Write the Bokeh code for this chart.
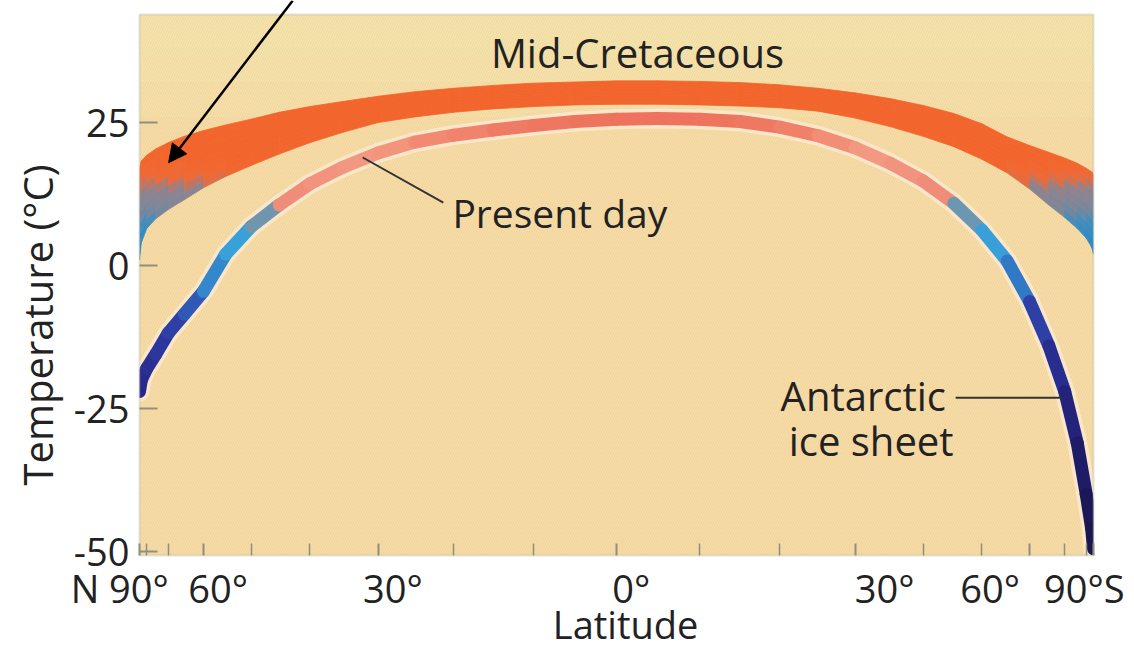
import math
from bokeh.plotting import figure
from bokeh.models import (Range1d, FixedTicker, CustomJSTickFormatter, Label, Arrow,
                          NormalHead, BoxAnnotation, ColumnDataSource)
from bokeh.embed import file_html
from bokeh.resources import INLINE

# ---------------- data ----------------
# latitude in degrees, positive = North, negative = South
latitude = [90, 85, 80, 75, 70, 65, 60, 55, 50, 45, 40, 35, 30, 25, 20, 15, 10, 5, 0,
            -5, -10, -15, -20, -25, -30, -35, -40, -45, -50, -55, -60, -65, -70, -75, -80, -85, -90]

# Mid-Cretaceous temperature band (upper / lower edge, deg C)
cretaceous_upper = [17.0, 18.3, 19.3, 20.4, 21.5, 22.6, 23.6, 24.6, 25.6, 26.8, 27.8, 28.7, 29.6,
                    30.4, 31.0, 31.5, 31.9, 32.1, 32.3, 32.3, 32.2, 32.0, 31.6, 31.0, 30.2, 29.2,
                    28.0, 26.6, 24.8, 22.5, 21.0, 19.8, 18.8, 17.9, 17.0, 16.4, 16.0]
cretaceous_lower = [1.0, 4.0, 6.5, 8.2, 9.8, 11.5, 13.6, 15.6, 17.5, 19.5, 21.5, 23.3, 25.0,
                    26.0, 26.8, 27.4, 27.8, 28.1, 28.2, 28.2, 28.1, 27.9, 27.6, 27.0, 25.8, 24.3,
                    22.6, 20.8, 18.6, 16.2, 13.4, 10.6, 8.4, 6.5, 4.8, 3.2, 2.0]

# Present day temperature (deg C)
present_day = [-22.0, -20.0, -18.0, -15.5, -11.8, -8.5, -4.5, 2.0, 6.8, 10.6, 14.3, 17.2, 19.7,
               21.6, 22.8, 23.7, 24.5, 25.2, 25.6, 25.7, 25.6, 25.2, 24.2, 22.7, 20.6, 17.9,
               14.8, 10.9, 6.2, 0.8, -6.3, -14.0, -22.0, -31.0, -40.0, -46.0, -49.5]

y_ticks = [25, 0, -25, -50]
x_tick_lats = [90, 60, 30, 0, -30, -60, -90]
x_tick_labels = ["N 90°", "60°", "30°", "0°", "30°", "60°", "90°S"]
minor_tick_lats = [80, 70, 50, 40, 20, 10, -10, -20, -40, -50, -70, -80]

# plotted area
Y_BOTTOM, Y_TOP = -50.7, 43.9
X_LEFT, X_RIGHT = -1.0, 1.0

# ---------------- helpers ----------------
def proj(lat):
    # equal-area (sine) latitude axis, North on the left
    return -math.sin(math.radians(lat))

def hex2rgb(h):
    return tuple(int(h[i:i + 2], 16) for i in (1, 3, 5))

def cmap(stops, t):
    if t <= stops[0][0]:
        return stops[0][1]
    if t >= stops[-1][0]:
        return stops[-1][1]
    for (t0, c0), (t1, c1) in zip(stops[:-1], stops[1:]):
        if t0 <= t <= t1:
            f = (t - t0) / (t1 - t0)
            a, b = hex2rgb(c0), hex2rgb(c1)
            return "#%02x%02x%02x" % tuple(round(a[i] + (b[i] - a[i]) * f) for i in range(3))

cret_stops = [(0, "#2a78b0"), (4, "#3088c0"), (7.5, "#3a8ec4"), (10, "#7d8798"),
              (13.5, "#8e8390"), (15.5, "#ec6a38"), (18, "#f2662e"), (40, "#f2642c")]
pres_stops = [(-50, "#1a1548"), (-35, "#1f1c68"), (-20, "#26288a"), (-10, "#2e3fa6"),
              (-4, "#2f6cc0"), (1, "#389cd8"), (7, "#3aa4da"), (9.5, "#8a8f99"),
              (12, "#ef8c78"), (20, "#f39a82"), (24, "#f07c66"), (28, "#ec6450")]

FONT = "Open Sans"
TXT = "#222222"
FS = "38px"

xs_lat = [proj(l) for l in latitude]

# ---------------- figure ----------------
# The frame fills the whole canvas; axes are pinned to the edges of the plotted area.
W, H = 1134, 649
PX_PER_X = 477.0      # pixels per unit of sin(latitude)
PX_PER_Y = 5.72       # pixels per deg C
FRAME_L, FRAME_T = 139, 14
x_lo = X_LEFT - FRAME_L / PX_PER_X
x_hi = x_lo + W / PX_PER_X
y_hi = Y_TOP + FRAME_T / PX_PER_Y
y_lo = y_hi - H / PX_PER_Y

p = figure(width=W, height=H, x_range=Range1d(x_lo, x_hi), y_range=Range1d(y_lo, y_hi),
           output_backend="svg", toolbar_location=None, min_border=0,
           background_fill_color="white", border_fill_color="white")
p.grid.visible = False
p.outline_line_color = None

area = dict(left=X_LEFT, right=X_RIGHT, bottom=Y_BOTTOM, top=Y_TOP)

# plotted area: background, tint and texture
p.add_layout(BoxAnnotation(**area, fill_color="#f7dca6", fill_alpha=1, line_color=None,
                           level="underlay"))
for b, a in ((26, 0.18), (32, 0.22), (37, 0.25)):
    p.add_layout(BoxAnnotation(left=X_LEFT, right=X_RIGHT, bottom=b, top=Y_TOP,
                               fill_color="#f5ecb0", fill_alpha=a, line_color=None,
                               level="underlay"))
p.add_layout(BoxAnnotation(**area, fill_alpha=0, line_color=None, hatch_pattern="/",
                           hatch_color="#e2c48e", hatch_alpha=0.35, hatch_scale=5, hatch_weight=1,
                           level="underlay"))

# halo under the present-day band
p.line(xs_lat, present_day, line_color="#fcecd8", line_width=20, line_alpha=0.7,
       line_join="round", line_cap="round")

# Mid-Cretaceous band, coloured by temperature
NSUB = 8
pxs, pys, pcs = [], [], []
for i in range(len(latitude) - 1):
    x0, x1 = xs_lat[i], xs_lat[i + 1]
    lo0, hi0 = cretaceous_lower[i], cretaceous_upper[i]
    lo1, hi1 = cretaceous_lower[i + 1], cretaceous_upper[i + 1]
    for k in range(NSUB):
        a0 = lo0 + (hi0 - lo0) * k / NSUB
        b0 = lo0 + (hi0 - lo0) * (k + 1) / NSUB
        a1 = lo1 + (hi1 - lo1) * k / NSUB
        b1 = lo1 + (hi1 - lo1) * (k + 1) / NSUB
        pxs.append([x0, x1, x1, x0])
        pys.append([a0, a1, b1, b0])
        pcs.append(cmap(cret_stops, (a0 + a1 + b0 + b1) / 4))
p.patches("xs", "ys", fill_color="c", line_color="c", line_width=0.8,
          source=ColumnDataSource(dict(xs=pxs, ys=pys, c=pcs)))

# Present-day band, coloured by temperature
seg = dict(x0=xs_lat[:-1], x1=xs_lat[1:], y0=present_day[:-1], y1=present_day[1:],
           c=[cmap(pres_stops, (present_day[i] + present_day[i + 1]) / 2)
              for i in range(len(present_day) - 1)])
p.segment("x0", "y0", "x1", "y1", line_color="c", line_width=13, line_cap="round",
          source=ColumnDataSource(seg))

# mask anything that spills outside the plotted area, then draw its border
for kw in (dict(right=X_LEFT), dict(left=X_RIGHT), dict(top=Y_BOTTOM), dict(bottom=Y_TOP)):
    p.add_layout(BoxAnnotation(**kw, fill_color="white", fill_alpha=1, line_color=None,
                               level="glyph"))
p.add_layout(BoxAnnotation(**area, fill_alpha=0, line_color="#a3a390", line_width=2,
                           level="glyph"))

# ---------------- axes ----------------
pad = "\u00a0"
tick_text = [x_tick_labels[0] + pad * 4, pad * 3 + x_tick_labels[1], pad * 3 + x_tick_labels[2],
             pad * 3 + x_tick_labels[3], pad * 6 + x_tick_labels[4], x_tick_labels[5] + pad * 8,
             x_tick_labels[6] + pad]
major_pos = [proj(l) for l in x_tick_lats]
p.xaxis.fixed_location = Y_BOTTOM
p.yaxis.fixed_location = X_LEFT
p.xaxis.ticker = FixedTicker(ticks=major_pos, minor_ticks=[proj(l) for l in minor_tick_lats])
p.xaxis.formatter = CustomJSTickFormatter(args=dict(pos=major_pos, names=tick_text), code="""
    let best = ''; let bd = 1e9;
    for (let i = 0; i < pos.length; i++) {
        const d = Math.abs(pos[i] - tick);
        if (d < bd) { bd = d; best = names[i]; }
    }
    return best;
""")
p.yaxis.ticker = FixedTicker(ticks=y_ticks)
p.yaxis.formatter = CustomJSTickFormatter(code="return String(Math.round(tick));")

for ax in (p.xaxis[0], p.yaxis[0]):
    ax.axis_line_color = None
    ax.major_tick_line_color = "#8f8f80"
    ax.major_tick_line_width = 2
    ax.major_tick_out = 0
    ax.minor_tick_line_color = "#8f8f80"
    ax.minor_tick_line_width = 1.5
    ax.minor_tick_out = 0
    ax.major_label_text_font = FONT
    ax.major_label_text_font_size = FS
    ax.major_label_text_color = TXT
    ax.axis_label_text_font = FONT
    ax.axis_label_text_font_style = "normal"
    ax.axis_label_text_color = TXT

p.xaxis.major_tick_in = 12
p.xaxis.minor_tick_in = 12
p.xaxis.major_label_standoff = 6

p.yaxis.major_tick_in = 18
p.yaxis.minor_tick_in = 0
p.yaxis.major_label_standoff = 10
p.yaxis.axis_label = "Temperature (°C)"
p.yaxis.axis_label_text_font_size = "40px"
p.yaxis.axis_label_standoff = 6

# ---------------- annotations ----------------
def lab(text, x, y, align="left", size="39px"):
    p.add_layout(Label(x=x, y=y, text=text, text_font=FONT, text_font_size=size,
                       text_color=TXT, text_align=align, text_baseline="alphabetic"))

# x-axis title, below the tick labels
lab("Latitude", 0.019, -62.7, "center", "38px")

lab("Mid-Cretaceous", 0.044, 37.2, "center", "40px")
lab("Present day", -0.344, 9.2)
lab("Antarctic", 0.344, -22.7, "left", "40px")
lab("ice sheet", 0.361, -30.6, "left", "40px")

p.add_layout(Arrow(end=None, x_start=-0.532, y_start=18.9, x_end=-0.363, y_end=11.0,
                   line_color="#333333", line_width=2))
p.add_layout(Arrow(end=None, x_start=0.711, y_start=-23.1, x_end=0.935, y_end=-23.1,
                   line_color="#333333", line_width=2))
p.add_layout(Arrow(end=NormalHead(size=18, fill_color="black", line_color="black"),
                   x_start=-0.679, y_start=46.3, x_end=-0.939, y_end=18.0,
                   line_color="black", line_width=2.5))

open("out.html", "w").write(file_html(p, INLINE))
